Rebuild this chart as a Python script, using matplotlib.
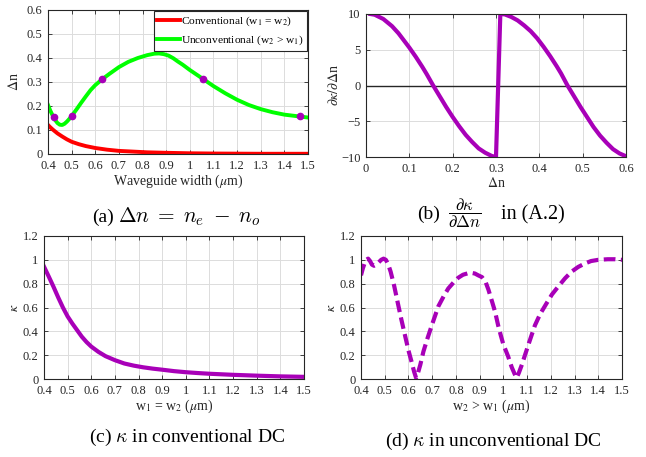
import matplotlib
matplotlib.use("Agg")
import matplotlib.pyplot as plt

plt.rcParams['font.family'] = ['Liberation Serif', 'DejaVu Serif']
plt.rcParams['mathtext.fontset'] = 'stix'

# ---------------- data ----------------
# (a) Delta n vs waveguide width
w_conv_a = [0.40, 0.41, 0.42, 0.43, 0.44, 0.46, 0.48, 0.50, 0.53, 0.56, 0.60, 0.65, 0.70, 0.76, 0.82, 0.90, 1.00, 1.10, 1.20, 1.30, 1.50]
dn_conv = [0.121, 0.111, 0.102, 0.094, 0.086, 0.073, 0.061, 0.051, 0.041, 0.033, 0.025, 0.018, 0.013, 0.010, 0.007, 0.005, 0.003, 0.002, 0.0015, 0.001, 0.001]
w_unconv_a = [0.40, 0.41, 0.42, 0.43, 0.44, 0.45, 0.46, 0.47, 0.48, 0.49, 0.50, 0.52, 0.54, 0.56, 0.58, 0.60,
              0.63, 0.66, 0.70, 0.74, 0.78, 0.82, 0.85, 0.87, 0.89, 0.91, 0.93, 0.95, 0.97, 1.00, 1.03,
              1.06, 1.10, 1.15, 1.20, 1.25, 1.30, 1.35, 1.40, 1.45, 1.50]
dn_unconv = [0.204, 0.180, 0.160, 0.142, 0.129, 0.122, 0.121, 0.126, 0.135, 0.146, 0.158, 0.185, 0.213, 0.240, 0.266, 0.287,
             0.312, 0.334, 0.362, 0.384, 0.400, 0.412, 0.418, 0.419, 0.416, 0.410, 0.399, 0.385, 0.372, 0.350, 0.330,
             0.310, 0.283, 0.253, 0.226, 0.204, 0.187, 0.174, 0.164, 0.158, 0.152]
mark_w = [0.425, 0.50, 0.63, 1.057, 1.466]
mark_dn = [0.156, 0.157, 0.312, 0.311, 0.157]

# (b) d kappa / d Delta n
dn_b = [0.01, 0.02, 0.03, 0.04, 0.05, 0.06, 0.075, 0.09, 0.10, 0.115, 0.13, 0.14, 0.155, 0.17, 0.185,
        0.20, 0.215, 0.23, 0.245, 0.26, 0.275, 0.29, 0.30,
        0.31, 0.32, 0.335, 0.35, 0.365, 0.38, 0.395, 0.41, 0.425, 0.44, 0.45, 0.465, 0.48, 0.495,
        0.51, 0.525, 0.54, 0.555, 0.57, 0.585, 0.60]
dk_b = [10.0, 9.9, 9.6, 9.3, 8.8, 8.3, 7.3, 6.1, 5.3, 4.0, 2.6, 1.6, 0.0, -1.5, -3.0,
        -4.4, -5.7, -6.9, -7.9, -8.8, -9.4, -9.85, -10.0,
        10.0, 9.95, 9.6, 9.1, 8.4, 7.6, 6.6, 5.4, 4.1, 2.7, 1.7, 0.0, -1.5, -3.0,
        -4.4, -5.8, -7.0, -8.0, -8.9, -9.5, -9.9]

# (c) kappa in conventional DC
w_c = [0.40, 0.42, 0.44, 0.46, 0.48, 0.50, 0.52, 0.54, 0.56, 0.58, 0.60, 0.63, 0.66, 0.70, 0.74, 0.78,
       0.82, 0.86, 0.90, 0.95, 1.00, 1.05, 1.10, 1.20, 1.30, 1.40, 1.50]
k_c = [0.943, 0.86, 0.775, 0.685, 0.60, 0.525, 0.465, 0.41, 0.355, 0.31, 0.272, 0.228, 0.192, 0.158, 0.130, 0.112,
       0.098, 0.087, 0.078, 0.066, 0.057, 0.050, 0.044, 0.035, 0.028, 0.022, 0.018]

# (d) kappa in unconventional DC
w_d = [0.400, 0.408, 0.415, 0.422, 0.430, 0.438, 0.446, 0.455, 0.465, 0.475, 0.485, 0.495, 0.505, 0.515,
       0.525, 0.540, 0.557, 0.570, 0.585, 0.600, 0.613, 0.624, 0.632, 0.640, 0.650, 0.663, 0.680, 0.700,
       0.726, 0.750, 0.768, 0.790, 0.810, 0.830, 0.852, 0.867, 0.880, 0.894, 0.910, 0.925, 0.937, 0.950,
       0.965, 0.978, 0.990, 1.000, 1.020, 1.035, 1.048, 1.056, 1.065, 1.078, 1.091, 1.110, 1.133, 1.155,
       1.182, 1.205, 1.231, 1.260, 1.287, 1.315, 1.344, 1.370, 1.400, 1.440, 1.470, 1.500]
k_d = [0.87, 0.93, 0.97, 1.00, 1.01, 0.99, 0.96, 0.95, 0.96, 0.98, 1.00, 1.01, 1.00, 0.96,
       0.90, 0.78, 0.62, 0.50, 0.37, 0.24, 0.145, 0.06, 0.01, 0.05, 0.12, 0.23, 0.34, 0.46,
       0.61, 0.70, 0.76, 0.81, 0.85, 0.875, 0.888, 0.89, 0.885, 0.87, 0.855, 0.815, 0.75, 0.665,
       0.565, 0.45, 0.36, 0.29, 0.19, 0.10, 0.04, 0.01, 0.05, 0.12, 0.20, 0.315, 0.45, 0.545,
       0.635, 0.71, 0.775, 0.845, 0.90, 0.94, 0.97, 0.99, 1.00, 1.005, 1.005, 1.00]

# ---------------- styling ----------------
W, H = 646, 457
fig = plt.figure(figsize=(W / 100, H / 100), dpi=100)
purple = '#A800B8'
dark = '#262626'
tfs = 9
lfs = 10

def box(l, t, r, b):
    return [l / W, 1 - b / H, (r - l) / W, (b - t) / H]

def style(ax):
    ax.grid(True, color='#dcdcdc', linewidth=0.7)
    ax.set_axisbelow(True)
    ax.tick_params(direction='in', top=True, right=True, length=3, width=0.6,
                   labelsize=tfs, colors=dark, pad=4)
    for s in ax.spines.values():
        s.set_color(dark)
        s.set_linewidth(0.8)

wticks = [0.4, 0.5, 0.6, 0.7, 0.8, 0.9, 1.0, 1.1, 1.2, 1.3, 1.4, 1.5]
wlabels = ['0.4', '0.5', '0.6', '0.7', '0.8', '0.9', '1', '1.1', '1.2', '1.3', '1.4', '1.5']

# (a)
ax = fig.add_axes(box(48, 10, 308, 154))
ax.plot(w_conv_a, dn_conv, color='#ff0000', lw=2.8, label='Conventional (w$_1$ = w$_2$)')
ax.plot(w_unconv_a, dn_unconv, color='#00ff00', lw=2.8, label='Unconventional (w$_2$ > w$_1$)')
ax.plot(mark_w, mark_dn, 'o', color=purple, ms=4.5, ls='none')
ax.set_xlim(0.4, 1.5)
ax.set_ylim(0, 0.6)
ax.set_xticks(wticks)
ax.set_xticklabels(wlabels)
ax.set_yticks([0, 0.1, 0.2, 0.3, 0.4, 0.5, 0.6])
ax.set_yticklabels(['0', '0.1', '0.2', '0.3', '0.4', '0.5', '0.6'])
style(ax)
ax.set_xlabel('Waveguide width ($\\mu$m)', fontsize=lfs, color=dark, labelpad=1)
ax.set_ylabel('$\\Delta$n', fontsize=lfs, color=dark, labelpad=4)
leg = ax.legend(loc='upper right', fontsize=8.2, frameon=True, fancybox=False,
                edgecolor=dark, handlelength=2.0, handletextpad=0.1, borderpad=0.3,
                labelspacing=0.5, borderaxespad=0.1, framealpha=1)
leg.get_frame().set_linewidth(0.8)

# (b)
ax = fig.add_axes(box(366, 14, 626, 157))
ax.axhline(0, color=dark, lw=1.0)
ax.plot(dn_b, dk_b, color=purple, lw=3)
ax.set_xlim(0, 0.6)
ax.set_ylim(-10, 10)
ax.set_xticks([0, 0.1, 0.2, 0.3, 0.4, 0.5, 0.6])
ax.set_xticklabels(['0', '0.1', '0.2', '0.3', '0.4', '0.5', '0.6'])
ax.set_yticks([-10, -5, 0, 5, 10])
style(ax)
ax.set_xlabel('$\\Delta$n', fontsize=lfs, color=dark, labelpad=1)
ax.set_ylabel('$\\partial\\kappa/\\partial\\Delta$n', fontsize=lfs, color=dark, labelpad=0)

# (c)
ax = fig.add_axes(box(44, 236, 304, 379))
ax.plot(w_c, k_c, color=purple, lw=3)
ax.set_xlim(0.4, 1.5)
ax.set_ylim(0, 1.2)
ax.set_xticks(wticks)
ax.set_xticklabels(wlabels)
ax.set_yticks([0, 0.2, 0.4, 0.6, 0.8, 1.0, 1.2])
ax.set_yticklabels(['0', '0.2', '0.4', '0.6', '0.8', '1', '1.2'])
style(ax)
ax.set_xlabel('w$_1$ = w$_2$ ($\\mu$m)', fontsize=lfs, color=dark, labelpad=1)
ax.set_ylabel('$\\kappa$', fontsize=lfs, color=dark, labelpad=1)

# (d)
ax = fig.add_axes(box(361, 236, 622, 379))
ax.plot(w_d, k_d, color=purple, lw=3, ls=(0, (2.8, 1.3)))
ax.set_xlim(0.4, 1.5)
ax.set_ylim(0, 1.2)
ax.set_xticks(wticks)
ax.set_xticklabels(wlabels)
ax.set_yticks([0, 0.2, 0.4, 0.6, 0.8, 1.0, 1.2])
ax.set_yticklabels(['0', '0.2', '0.4', '0.6', '0.8', '1', '1.2'])
style(ax)
ax.set_xlabel('w$_2$ > w$_1$ ($\\mu$m)', fontsize=lfs, color=dark, labelpad=1)
ax.set_ylabel('$\\kappa$', fontsize=lfs, color=dark, labelpad=1)

# captions
cfs = 14
fig.text(92 / W, 1 - 222 / H, '(a)', ha='left', va='baseline', fontsize=cfs)
fig.text(118 / W, 1 - 222 / H, '$\\Delta n\\;=\\;n_e\\;-\\;n_o$', ha='left', va='baseline',
         fontsize=15.4, math_fontfamily='cm')
fig.text(417 / W, 1 - 219 / H, '(b)', ha='left', va='baseline', fontsize=cfs)
fig.text(465 / W, 1 - 213 / H, '$\\dfrac{\\partial\\kappa}{\\partial\\Delta n}$', ha='center', va='center',
         fontsize=12, math_fontfamily='cm')
fig.text(501 / W, 1 - 219 / H, 'in (A.2)', ha='left', va='baseline', fontsize=cfs + 0.5)
fig.text(187 / W, 1 - 437 / H, '(c) $\\kappa$ in conventional DC', ha='center', va='center', fontsize=cfs,
         math_fontfamily='cm')
fig.text(493 / W, 1 - 441 / H, '(d) $\\kappa$ in unconventional DC', ha='center', va='center', fontsize=cfs,
         math_fontfamily='cm')

fig.savefig('out.png', dpi=100)
